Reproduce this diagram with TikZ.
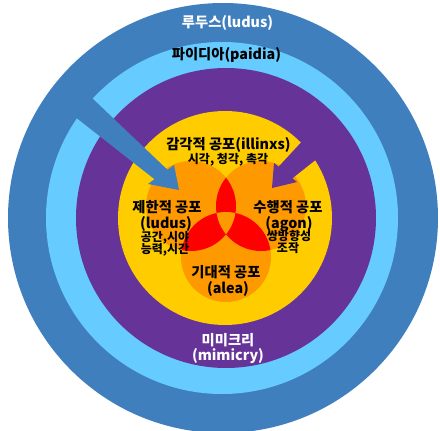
\documentclass[tikz,border=0pt]{standalone}
\usepackage{fontspec}
\newfontfamily\kr{Noto Sans CJK KR}
\definecolor{dkblue}{RGB}{64,127,190}
\definecolor{ltblue}{RGB}{102,204,255}
\definecolor{purp}{RGB}{102,51,153}
\definecolor{yel}{RGB}{255,204,0}
\definecolor{org}{RGB}{255,153,0}
\definecolor{redc}{RGB}{255,0,0}
\tikzset{
  lbl/.style={font=\kr\bfseries\fontsize{14.3}{16}\selectfont, inner sep=0pt, anchor=base},
  sublbl/.style={font=\kr\bfseries\fontsize{12}{13}\selectfont, inner sep=0pt, anchor=base},
}
\begin{document}
\begin{tikzpicture}[x=1pt,y=-1pt]
\useasboundingbox (0,0) rectangle (440,431);
\clip (0,0) rectangle (440,431);
\fill[white] (0,0) rectangle (440,431);
% rings
\fill[dkblue] (223,218) circle[radius=215pt];
\fill[ltblue] (222,218) circle[radius=176pt];
\fill[purp] (226,218) circle[radius=150pt];
\fill[yel] (225,218) circle[radius=107pt];
% venn circles
\fill[org] (191,206) circle[radius=45pt];
\fill[org] (261,206) circle[radius=45pt];
\fill[org] (226,257) circle[radius=45pt];
\begin{scope}
  \clip (191,206) circle[radius=45pt];
  \fill[redc] (261,206) circle[radius=45pt];
  \fill[redc] (226,257) circle[radius=45pt];
\end{scope}
\begin{scope}
  \clip (261,206) circle[radius=45pt];
  \fill[redc] (226,257) circle[radius=45pt];
\end{scope}
\begin{scope}
  \clip (191,206) circle[radius=45pt];
  \clip (261,206) circle[radius=45pt];
  \fill[org] (226,257) circle[radius=45pt];
\end{scope}
% arrows
\fill[dkblue] (72,79) -- (167.5,169.8) -- (174,165) -- (179,190) -- (148,184) -- (154.5,179.2) -- (60,105) -- cycle;
\fill[purp] (320.2,121.7) -- (278.6,166.7) -- (274,163) -- (272,188) -- (297,182) -- (292.4,178.3) -- (333.4,145.8) -- cycle;
% labels
\node[lbl, text=white] (ludusout) at (227.5,27.5) {루두스(ludus)};
\node[lbl] (paidia) at (226.5,59.5) {파이디아(paidia)};
\node[lbl] (illinx) at (228.5,149.5) {감각적 공포(illinxs)};
\node[sublbl] (illinxsub) at (228,163.5) {시각, 청각, 촉각};
\node[lbl] (ludus1) at (167,212.5) {제한적 공포};
\node[lbl] (ludus2) at (166,228) {(ludus)};
\node[sublbl] (ludus3) at (165,241.5) {공간,시야};
\node[sublbl] (ludus4) at (165,253) {능력,시간};
\node[lbl] (agon1) at (288,212.5) {수행적 공포};
\node[lbl] (agon2) at (289,228) {(agon)};
\node[sublbl] (agon3) at (289,240.5) {쌍방향성};
\node[sublbl] (agon4) at (288,252.5) {조작};
\node[lbl] (alea1) at (226,277.5) {기대적 공포};
\node[lbl] (alea2) at (228,293) {(alea)};
\node[lbl, text=white] (mim1) at (228,345.5) {미미크리};
\node[lbl, text=white] (mim2) at (228,360.5) {(mimicry)};
\end{tikzpicture}
\end{document}
